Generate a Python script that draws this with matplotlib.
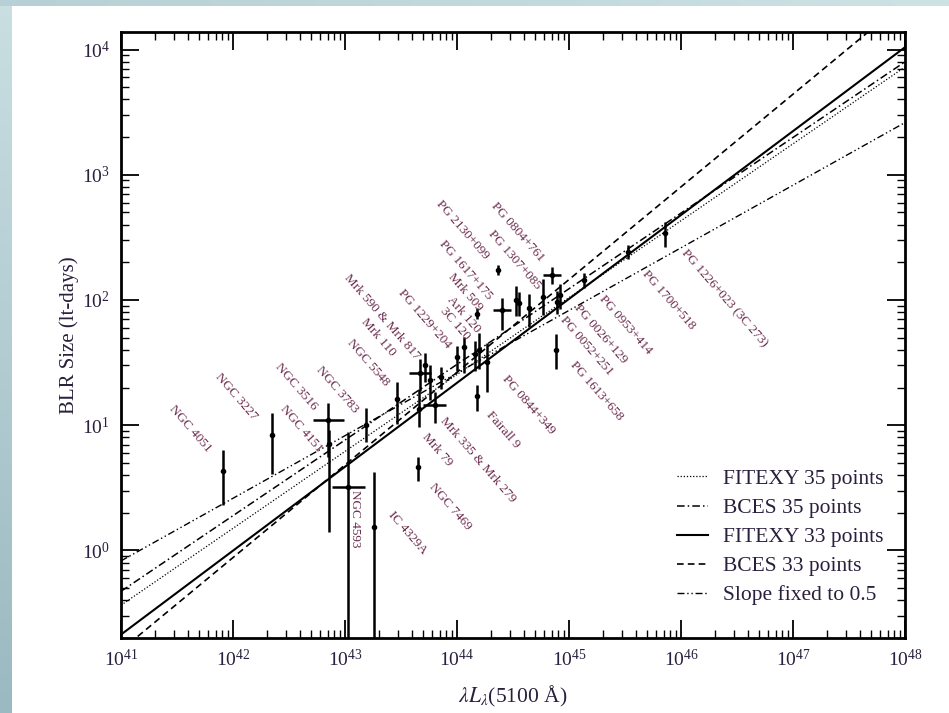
import numpy as np
import matplotlib.pyplot as plt
from matplotlib.colors import LinearSegmentedColormap
from matplotlib.ticker import LogLocator, LogFormatterSciNotation, NullFormatter

plt.rcParams['font.family'] = ['Liberation Serif', 'DejaVu Serif']
plt.rcParams['mathtext.fontset'] = 'stix'

# reverberation sample: log10 lambda*L_lambda(5100 A) [erg/s] and Hbeta lag [lt-days]
log_lum = [41.91, 42.35, 42.85, 42.86, 43.03, 43.26, 43.19, 43.46, 43.65, 43.80,
           43.67, 43.76, 43.66, 43.86, 44.00, 44.06, 44.18, 44.18, 44.27, 44.16,
           44.37, 44.40, 44.53, 44.64, 44.77, 44.89, 44.85, 44.88, 45.13, 45.53,
           45.86, 44.92, 43.71, 44.55, 44.20]
lum_err = [0, 0, 0.14, 0, 0.15, 0, 0, 0, 0, 0.10,
           0.10, 0, 0, 0, 0, 0, 0, 0, 0, 0,
           0, 0.08, 0, 0, 0, 0, 0.08, 0, 0, 0,
           0, 0, 0, 0, 0]
r_blr = [4.3, 8.3, 11.0, 7.1, 3.2, 1.53, 10.0, 16.3, 4.6, 14.5,
         25.9, 23.0, 13.6, 24.4, 35.0, 42.0, 78.0, 17.0, 32.0, 37.0,
         174.0, 83.0, 100.0, 86.0, 106.0, 97.0, 158.0, 40.0, 145.0, 243.0,
         342.0, 110.0, 30.0, 95.0, 40.0]
r_lo = [2.0, 4.2, 5.4, 5.7, 3.1, 1.5, 2.7, 6.0, 1.0, 4.0,
        7.0, 7.0, 4.0, 5.0, 8.0, 16.0, 8.0, 4.0, 13.5, 10.0,
        15.0, 25.0, 25.0, 25.0, 30.0, 20.0, 25.0, 12.0, 20.0, 30.0,
        78.0, 25.0, 8.0, 20.0, 12.0]
r_hi = [2.1, 4.2, 4.1, 2.0, 5.6, 2.7, 3.7, 6.0, 1.0, 4.0,
        8.0, 7.0, 6.0, 5.0, 8.0, 9.0, 8.0, 4.0, 13.0, 10.0,
        15.0, 20.0, 30.0, 25.0, 40.0, 20.0, 25.0, 14.0, 20.0, 30.0,
        75.0, 25.0, 8.0, 20.0, 15.0]

# fitted relations R = A * (L / 1e44)^alpha
fit_labels = ['FITEXY 35 points', 'BCES 35 points', 'FITEXY 33 points',
              'BCES 33 points', 'Slope fixed to 0.5']
fit_norm = [25.4, 30.6, 21.8, 26.5, 26.1]
fit_slope = [0.614, 0.604, 0.67, 0.74, 0.5]
fit_styles = [(0, (1, 1.5)), (0, (5, 2, 1, 2)), '-', (0, (4, 2.5)), (0, (5, 2, 1, 2, 1, 2))]
fit_widths = [0.9, 1.1, 1.5, 1.2, 1.0]

# object names with text positions (log L, log R) and rotation
names = ['NGC 4051', 'NGC 3227', 'NGC 3516', 'NGC 4151', 'NGC 3783', 'NGC 5548',
         'Mrk 110', 'Mrk 590 & Mrk 817', 'PG 1229+204', '3C 120', 'Ark 120',
         'Mrk 509', 'PG 1617+175', 'PG 2130+099', 'PG 0804+761', 'PG 1307+085',
         'NGC 4593', 'IC 4329A', 'Mrk 79', 'Mrk 335 & Mrk 279', 'NGC 7469',
         'Fairall 9', 'PG 0844+349', 'PG 0052+251', 'PG 0026+129', 'PG 0953+414',
         'PG 1700+518', 'PG 1226+023 (3C 273)', 'PG 1613+658']
name_x = [41.62, 42.03, 42.56, 42.61, 42.93, 43.21, 43.30, 43.33, 43.71, 43.98, 44.06,
          44.07, 44.08, 44.05, 44.54, 44.51, 43.09, 43.56, 43.82, 44.19, 43.94,
          44.41, 44.64, 45.16, 45.28, 45.50, 45.89, 46.39, 45.25]
name_y = [0.97, 1.23, 1.31, 0.97, 1.28, 1.50, 1.70, 1.86, 1.85, 1.81, 1.88,
          2.06, 2.24, 2.56, 2.54, 2.32, 0.25, 0.14, 0.80, 0.72, 0.35,
          0.96, 1.16, 1.63, 1.73, 1.80, 2.00, 2.01, 1.27]
name_rot = [-49] * 16 + [-90] + [-49] * 12

fig = plt.figure(figsize=(9.49, 7.13), dpi=100)
fig.patch.set_facecolor('white')

# bluish frame strips at the left and top edges
grad = np.linspace(0, 1, 256).reshape(-1, 1)
strip = fig.add_axes([0, 0, 12 / 949, 1])
strip.imshow(grad, aspect='auto', cmap=LinearSegmentedColormap.from_list(
    'edge', ['#c9dfe2', '#9bb9c1']), extent=[0, 1, 0, 1], origin='upper')
strip.axis('off')
top = fig.add_axes([0, 1 - 6 / 713, 1, 6 / 713])
top.imshow(grad.T, aspect='auto', cmap=LinearSegmentedColormap.from_list(
    'edge2', ['#b6d0d5', '#cde2e3']), extent=[0, 1, 0, 1])
top.axis('off')

ax = fig.add_axes([121 / 949, 1 - 638 / 713, 784 / 949, 606 / 713])

lum = 10 ** np.array(log_lum)
xlo = lum - 10 ** (np.array(log_lum) - np.array(lum_err))
xhi = 10 ** (np.array(log_lum) + np.array(lum_err)) - lum
ax.errorbar(lum, r_blr, xerr=[xlo, xhi], yerr=[r_lo, r_hi], fmt='o', ms=3,
            color='black', ecolor='black', elinewidth=1.8, capsize=0, zorder=3)

xx = np.logspace(41, 48, 200)
for lab, a, s, ls, lw in zip(fit_labels, fit_norm, fit_slope, fit_styles, fit_widths):
    ax.plot(xx, a * (xx / 1e44) ** s, color='black', ls=ls, lw=lw, label=lab)

for n, x, y, r in zip(names, name_x, name_y, name_rot):
    ax.text(10 ** x, 10 ** y, n, rotation=r, rotation_mode='anchor', ha='center',
            va='center', fontsize=9.5, color='#6b2a4c')

ax.set_xscale('log')
ax.set_yscale('log')
ax.set_xlim(1e41, 1e48)
ax.set_ylim(0.2, 1.38e4)

ax.xaxis.set_major_locator(LogLocator(base=10, numticks=20))
ax.xaxis.set_minor_locator(LogLocator(base=10, subs=np.arange(2, 10), numticks=20))
ax.yaxis.set_major_locator(LogLocator(base=10, numticks=20))
ax.yaxis.set_minor_locator(LogLocator(base=10, subs=np.arange(2, 10), numticks=20))
ax.xaxis.set_major_formatter(LogFormatterSciNotation())
ax.yaxis.set_major_formatter(LogFormatterSciNotation())
ax.xaxis.set_minor_formatter(NullFormatter())
ax.yaxis.set_minor_formatter(NullFormatter())
ax.tick_params(which='both', direction='in', top=True, right=True, labelsize=14,
               colors='black', labelcolor='#2a1f3d')
ax.tick_params(which='major', length=13, width=1.3, pad=8)
ax.tick_params(which='minor', length=6, width=1.0)
for sp in ax.spines.values():
    sp.set_linewidth(2.0)

ax.set_xlabel(r'$\lambda L_{\lambda}$(5100 Å)', fontsize=15.5, color='#2a1f3d', labelpad=10)
ax.set_ylabel('BLR Size (lt-days)', fontsize=15, color='#2a1f3d', labelpad=2)

ax.legend(loc='upper left', bbox_to_anchor=(0.684, 0.311), frameon=False, fontsize=15.5,
          handlelength=1.45, labelspacing=0.42, handletextpad=0.7, labelcolor='#2a1f3d')

fig.savefig('out.png', dpi=100)
